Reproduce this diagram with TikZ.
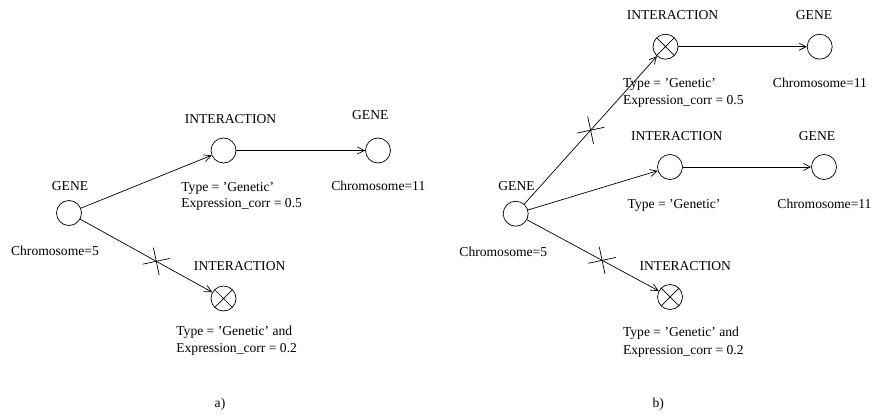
\documentclass[tikz,border=0pt]{standalone}
\usepackage{fontspec}
\setmainfont{Liberation Serif}
\usetikzlibrary{arrows.meta, positioning, calc}

\begin{document}
\begin{tikzpicture}[x=1pt, y=-1pt, line width=0.7pt,
    entity/.style={circle, draw, minimum size=25pt, inner sep=0pt},
    cut/.style={entity, path picture={
        \draw (path picture bounding box.north west) -- (path picture bounding box.south east)
              (path picture bounding box.north east) -- (path picture bounding box.south west);}},
    txt/.style={inner sep=0pt, anchor=base, font=\fontsize{13.6}{16}\selectfont},
    attr/.style={txt, anchor=base west},
    link/.style={-{Straight Barb[length=7pt,width=7pt]}}]
    \useasboundingbox (0,0) rectangle (872,417);

    % a)
    \node [entity] (geneA) at (69,213) {};
    \node [entity] (intA1) at (223.5,150.5) {};
    \node [entity] (geneA1) at (378,150.5) {};
    \node [cut] (intA2) at (223.5,298.5) {};

    \node [txt] (geneAlbl) at (70,190.5) {GENE};
    \node [txt] (geneAattr) at (55,255) {Chromosome=5};
    \node [txt] (intA1lbl) at (230.5,123.3) {INTERACTION};
    \node [attr] (intA1type) at (181,191.7) {Type = 'Genetic'};
    \node [attr] (intA1corr) at (181,207) {Expression\_corr = 0.5};
    \node [txt] (geneA1lbl) at (370.3,120) {GENE};
    \node [txt] (geneA1attr) at (378.3,190.5) {Chromosome=11};
    \node [txt] (intA2lbl) at (239.7,270) {INTERACTION};
    \node [attr] (intA2type) at (176,335) {Type = 'Genetic' and};
    \node [attr] (intA2corr) at (176,352) {Expression\_corr = 0.2};
    \node [txt] (capA) at (220,407) {a)};

    \draw [link] (geneA) -- (intA1);
    \draw [link] (intA1) -- (geneA1);
    \draw [link] (geneA) -- (intA2);
    \coordinate (tickA) at ($(geneA)!0.565!(intA2)$);
    \draw [rotate=12] (tickA) +(-14,0) -- +(14,0) (tickA) +(0,-14) -- +(0,14);

    % b)
    \node [entity] (geneB) at (515.7,213.7) {};
    \node [cut] (intB1) at (665.5,46.7) {};
    \node [entity] (geneB1) at (819.7,46.7) {};
    \node [entity] (intB2) at (670,167) {};
    \node [entity] (geneB2) at (824,167) {};
    \node [cut] (intB3) at (670,297) {};

    \node [txt] (geneBlbl) at (516.5,190) {GENE};
    \node [txt] (geneBattr) at (503.3,256.7) {Chromosome=5};
    \node [txt] (intB1lbl) at (672.5,20) {INTERACTION};
    \node [attr] (intB1type) at (622.7,87.3) {Type = 'Genetic'};
    \node [attr] (intB1corr) at (622.7,104.3) {Expression\_corr = 0.5};
    \node [txt] (geneB1lbl) at (814,20) {GENE};
    \node [txt] (geneB1attr) at (820,87.3) {Chromosome=11};
    \node [txt] (intB2lbl) at (676.7,140) {INTERACTION};
    \node [attr] (intB2type) at (627.3,208.3) {Type = 'Genetic'};
    \node [txt] (geneB2lbl) at (817,140) {GENE};
    \node [txt] (geneB2attr) at (824.5,208.3) {Chromosome=11};
    \node [txt] (intB3lbl) at (685.3,270) {INTERACTION};
    \node [attr] (intB3type) at (622.7,336.7) {Type = 'Genetic' and};
    \node [attr] (intB3corr) at (622.7,354) {Expression\_corr = 0.2};
    \node [txt] (capB) at (658.3,407) {b)};

    \draw [link] (geneB) -- (intB1);
    \draw [link] (intB1) -- (geneB1);
    \draw [link] (geneB) -- (intB2);
    \draw [link] (intB2) -- (geneB2);
    \draw [link] (geneB) -- (intB3);
    \coordinate (tickB1) at ($(geneB)!0.5!(intB1)$);
    \draw [rotate=12] (tickB1) +(-14,0) -- +(14,0) (tickB1) +(0,-14) -- +(0,14);
    \coordinate (tickB3) at ($(geneB)!0.56!(intB3)$);
    \draw [rotate=12] (tickB3) +(-14,0) -- +(14,0) (tickB3) +(0,-14) -- +(0,14);
\end{tikzpicture}
\end{document}
